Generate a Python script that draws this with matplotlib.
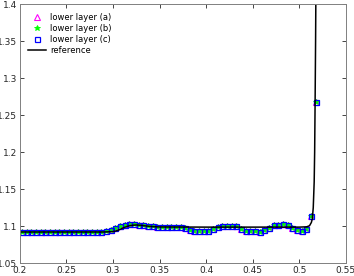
import numpy as np
import matplotlib
matplotlib.use("Agg")
import matplotlib.pyplot as plt

# sample positions (cell centres)
x_cells = [0.2025 + 0.005 * k for k in range(64)]

layer_vals = [
    1.0920, 1.0920, 1.0920, 1.0920, 1.0920, 1.0920, 1.0920, 1.0920,  # 0.2025-0.2375
    1.0920, 1.0920, 1.0920, 1.0920, 1.0920, 1.0920, 1.0920, 1.0920,  # 0.2425-0.2775
    1.0920, 1.0922, 1.0930, 1.0945, 1.0975, 1.1000, 1.1018, 1.1025,  # 0.2825-0.3175
    1.1025, 1.1020, 1.1010, 1.1002, 1.0995, 1.0992, 1.0991, 1.0991,  # 0.3225-0.3575
    1.0991, 1.0990, 1.0982, 1.0969, 1.0946, 1.0936, 1.0936, 1.0936,  # 0.3625-0.3975
    1.0936, 1.0955, 1.0990, 1.1004, 1.1004, 1.1004, 1.1000, 1.0964,  # 0.4025-0.4375
    1.0932, 1.0930, 1.0930, 1.0923, 1.0946, 1.0977, 1.1014, 1.1015,  # 0.4425-0.4775
    1.1023, 1.1018, 1.0969, 1.0946, 1.0936, 1.0955, 1.1135, 1.2680,  # 0.4825-0.5175
]
layer_a = list(layer_vals)
layer_b = list(layer_vals)
layer_c = list(layer_vals)

x_ref = [0.2, 0.28, 0.29, 0.30, 0.305, 0.31, 0.315, 0.32, 0.325, 0.33, 0.34, 0.35,
         0.40, 0.45, 0.50, 0.508, 0.511, 0.513, 0.514, 0.515, 0.516, 0.5165, 0.517,
         0.5175, 0.518]
y_ref = [1.092, 1.092, 1.092, 1.0925, 1.094, 1.097, 1.0995, 1.101, 1.1015, 1.101,
         1.0995, 1.0988, 1.0986, 1.0986, 1.0986, 1.099, 1.1005, 1.105, 1.11, 1.125,
         1.16, 1.2, 1.27, 1.35, 1.45]

x_ticks = [0.2, 0.25, 0.3, 0.35, 0.4, 0.45, 0.5, 0.55]
x_labels = ["0.2", "0.25", "0.3", "0.35", "0.4", "0.45", "0.5", "0.55"]
y_ticks = [1.05, 1.1, 1.15, 1.2, 1.25, 1.3, 1.35, 1.4]
y_labels = ["1.05", "1.1", "1.15", "1.2", "1.25", "1.3", "1.35", "1.4"]

fig = plt.figure(figsize=(3.54, 2.76), dpi=100)
ax = fig.add_axes([0.056, 0.047, 0.921, 0.937])

ax.plot(x_cells, layer_a, linestyle="none", marker="^", markersize=4.2,
        markerfacecolor="none", markeredgecolor="#ff00ff", markeredgewidth=0.8,
        label="lower layer (a)")
ax.plot(x_cells, layer_b, linestyle="none", marker="*", markersize=4,
        color="#00ff00", markeredgewidth=0.6, label="lower layer (b)")
ax.plot(x_cells, layer_c, linestyle="none", marker="s", markersize=3.6,
        markerfacecolor="none", markeredgecolor="#0000ff", markeredgewidth=0.9,
        label="lower layer (c)")
ax.plot(x_ref, y_ref, color="black", linewidth=1.1, label="reference")

ax.set_xlim(0.2, 0.55)
ax.set_ylim(1.05, 1.4)
ax.set_xticks(x_ticks)
ax.set_xticklabels(x_labels)
ax.set_yticks(y_ticks)
ax.set_yticklabels(y_labels)
ax.tick_params(direction="in", top=True, right=True, length=3, width=0.6,
               labelsize=6.5, colors="#262626", pad=2)
for s in ax.spines.values():
    s.set_color("#808080")
    s.set_linewidth(0.7)

leg = ax.legend(loc="upper left", frameon=False, fontsize=6, handlelength=2.2,
                handletextpad=0.4, labelspacing=0.25, borderaxespad=0.6,
                bbox_to_anchor=(0.0, 1.0))

fig.savefig("out.png", dpi=100)
